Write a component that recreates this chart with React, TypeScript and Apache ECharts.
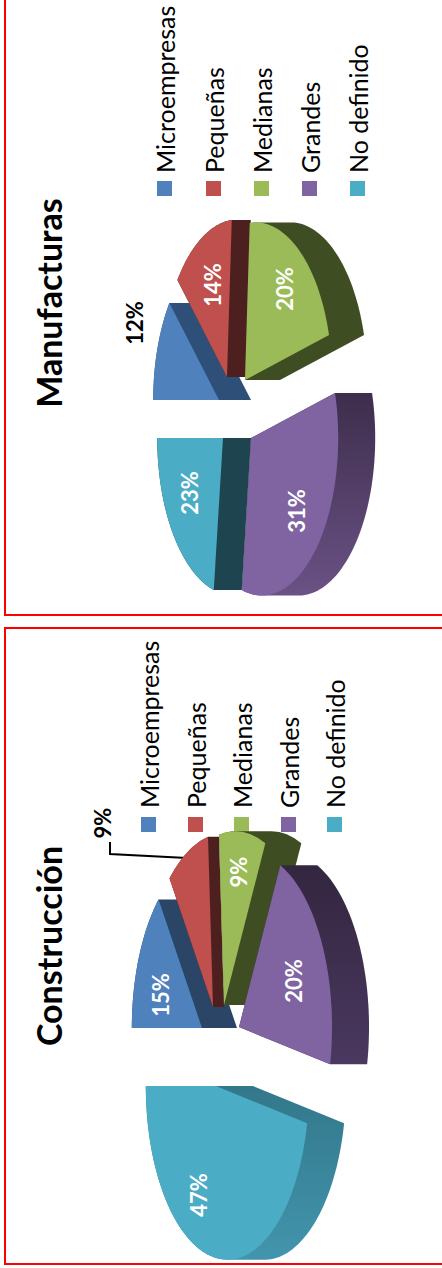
import React, { useEffect, useRef } from "react";
import * as echarts from "echarts";

// Company-size shares per sector, in percent
const categories = ["Microempresas", "Pequeñas", "Medianas", "Grandes", "No definido"];
const manufacturasValues = [12, 14, 20, 31, 23];
const construccionValues = [15, 9, 9, 20, 47];

const topColors = ["#4f81bd", "#c0504d", "#9bbb59", "#8064a2", "#4bacc6"];

const FONT = "Lato, 'Open Sans', sans-serif";
const QUARTER = Math.PI / 2;

type Wedge = {
  apex: [number, number];
  depth: number;
  side: [string, string];
  label: [number, number];
  labelColor: string;
};

type Pie = {
  rFar: number;
  rSide: number;
  perspective: number;
  wedges: Wedge[];
};

const manufacturasPie: Pie = {
  rFar: 75,
  rSide: 156,
  perspective: 0.14,
  wedges: [
    { apex: [219, 400], depth: 32, side: ["#2d4f78", "#2d4f78"], label: [134, 323], labelColor: "#000" },
    { apex: [227, 377], depth: 19, side: ["#4e1f1f", "#4e1f1f"], label: [212, 285], labelColor: "#fff" },
    { apex: [245, 380], depth: 35, side: ["#3f4d22", "#3f4d22"], label: [284, 289], labelColor: "#fff" },
    { apex: [251, 438], depth: 37, side: ["#3e2d4c", "#6a5285"], label: [296, 511], labelColor: "#fff" },
    { apex: [223, 438], depth: 28, side: ["#1e444f", "#1e444f"], label: [189, 493], labelColor: "#fff" },
  ],
};

const construccionPie: Pie = {
  rFar: 80,
  rSide: 172,
  perspective: 0.14,
  wedges: [
    { apex: [202, 1028], depth: 35, side: ["#2a4565", "#2a4565"], label: [160, 995], labelColor: "#fff" },
    { apex: [213, 1007], depth: 11, side: ["#4e1f1f", "#4e1f1f"], label: [102, 823], labelColor: "#000" },
    { apex: [224, 1005], depth: 36, side: ["#3f4d22", "#3f4d22"], label: [238, 872], labelColor: "#fff" },
    { apex: [239, 1027], depth: 37, side: ["#33263f", "#4a3860"], label: [293, 981], labelColor: "#fff" },
    { apex: [216, 1086], depth: 37, side: ["#33778a", "#4295ad"], label: [198, 1195], labelColor: "#fff" },
  ],
};

type Point = [number, number];

function convexHull(points: Point[]): Point[] {
  const sorted = [...points].sort((a, b) => a[0] - b[0] || a[1] - b[1]);
  const cross = (o: Point, a: Point, b: Point) =>
    (a[0] - o[0]) * (b[1] - o[1]) - (a[1] - o[1]) * (b[0] - o[0]);
  const chain = (list: Point[]) => {
    const out: Point[] = [];
    for (const p of list) {
      while (out.length >= 2 && cross(out[out.length - 2], out[out.length - 1], p) <= 0) out.pop();
      out.push(p);
    }
    out.pop();
    return out;
  };
  return [...chain(sorted), ...chain([...sorted].reverse())];
}

// Tilted, exploded wedge: slices run clockwise from the far side of the disc.
function wedgeSeries(pie: Pie, values: number[]) {
  const total = values.reduce((a, b) => a + b, 0);
  return {
    type: "custom",
    coordinateSystem: "none",
    silent: true,
    data: values.map((value, i) => ({ name: categories[i], value })),
    renderItem: (params: any, api: any) => {
      const i = params.dataIndex;
      const before = values.slice(0, i).reduce((a, b) => a + b, 0);
      const start = (before / total) * Math.PI * 2;
      const sweep = (api.value(0) / total) * Math.PI * 2;
      const wedge = pie.wedges[i];
      const [ax, ay] = wedge.apex;

      const face: Point[] = [[ax, ay]];
      const steps = Math.max(8, Math.ceil(sweep / 0.03));
      for (let k = 0; k <= steps; k++) {
        const t = start + (sweep * k) / steps;
        const far = Math.cos(t);
        const scale = 1 / (1 + pie.perspective * far);
        face.push([ax - pie.rFar * far * scale, ay - pie.rSide * Math.sin(t) * scale]);
      }
      const extruded = face.map((p): Point => [p[0] + wedge.depth, p[1]]);

      return {
        type: "group",
        children: [
          {
            type: "polygon",
            shape: { points: convexHull([...face, ...extruded]) },
            style: {
              fill: {
                type: "linear",
                x: 0,
                y: 0,
                x2: 0,
                y2: 1,
                colorStops: [
                  { offset: 0, color: wedge.side[0] },
                  { offset: 1, color: wedge.side[1] },
                ],
              },
            },
          },
          {
            type: "polygon",
            shape: { points: face },
            style: { fill: topColors[i] },
          },
          {
            type: "text",
            x: wedge.label[0],
            y: wedge.label[1],
            rotation: QUARTER,
            z2: 10,
            style: {
              text: `${api.value(0)}%`,
              fill: wedge.labelColor,
              font: `bold 22px ${FONT}`,
              align: "center",
              verticalAlign: "middle",
            },
          },
        ],
      };
    },
  };
}

function legendGraphics(swatchX: number[], swatchY: number, textBottom: number) {
  return categories.flatMap((name, i) => [
    {
      type: "rect",
      shape: { x: swatchX[i], y: swatchY, width: 15, height: 15 },
      style: { fill: topColors[i] },
    },
    {
      type: "text",
      x: swatchX[i] + 7.5,
      y: textBottom,
      rotation: QUARTER,
      style: {
        text: name,
        fill: "#000",
        font: `25px ${FONT}`,
        align: "left",
        verticalAlign: "middle",
      },
    },
  ]);
}

function titleGraphic(text: string, x: number, y: number) {
  return {
    type: "text",
    x,
    y,
    rotation: QUARTER,
    style: {
      text,
      fill: "#000",
      font: `bold 34px ${FONT}`,
      align: "center",
      verticalAlign: "middle",
    },
  };
}

export default function App() {
  const ref = useRef<HTMLDivElement>(null);

  useEffect(() => {
    document.body.style.margin = "0";
    const chart = echarts.init(ref.current!, undefined, { renderer: "svg" });
    chart.setOption({
      animation: false,
      backgroundColor: "#fff",
      graphic: [
        {
          type: "rect",
          shape: { x: 5, y: -20, width: 460, height: 635 },
          style: { fill: "none", stroke: "#ff0000", lineWidth: 2 },
        },
        {
          type: "rect",
          shape: { x: 5, y: 628, width: 460, height: 636 },
          style: { fill: "none", stroke: "#ff0000", lineWidth: 2 },
        },
        titleGraphic("Manufacturas", 48, 303),
        titleGraphic("Construcción", 48, 946),
        ...legendGraphics([157, 206, 254, 302, 350], 181, 173),
        ...legendGraphics([141, 188, 234, 281, 327], 817, 808),
        {
          type: "polyline",
          shape: { points: [[110, 842], [110, 854], [187, 858]] },
          style: { fill: "none", stroke: "#000", lineWidth: 2 },
        },
      ],
      series: [
        wedgeSeries(manufacturasPie, manufacturasValues),
        wedgeSeries(construccionPie, construccionValues),
      ],
    });
    return () => chart.dispose();
  }, []);

  return <div ref={ref} style={{ width: 442, height: 1268 }} />;
}
